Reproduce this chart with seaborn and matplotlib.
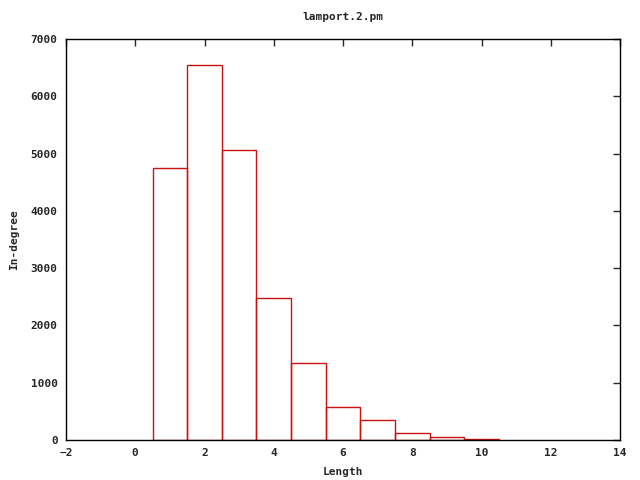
import matplotlib
matplotlib.use('Agg')
import matplotlib.pyplot as plt
import numpy as np
import pandas as pd
import seaborn as sns

sns.set_style("white")
plt.rcParams['font.family'] = ['DejaVu Sans Mono', 'DejaVu Sans']

#Data
length = [1, 2, 3, 4, 5, 6, 7, 8, 9, 10]
indegree = [4740, 6550, 5070, 2475, 1345, 578, 350, 125, 58, 22]

df = pd.DataFrame({'Length': length, 'In-degree': indegree})

fig = plt.figure(figsize=(6.4, 4.8), dpi=100)
ax = fig.add_axes([66/640, 40/480, 554/640, 401/480])
sns.histplot(data=df, x='Length', weights='In-degree', binwidth=1, binrange=(0.5, 10.5),
             fill=False, color='#cc1111', linewidth=1, ax=ax)

ax.set_xlim(-2, 14)
ax.set_ylim(0, 7000)
ax.set_xticks(np.arange(-2, 15, 2))
ax.set_yticks(np.arange(0, 7001, 1000))
ax.tick_params(direction='in', top=True, right=True, length=5, width=1,
               labelsize=8, pad=6)
for lab in ax.get_xticklabels() + ax.get_yticklabels():
    lab.set_fontweight('bold')
for s in ax.spines.values():
    s.set_linewidth(1)
    s.set_color('black')
ax.set_xlabel('Length', fontsize=8, fontweight='bold', labelpad=6)
ax.set_ylabel('In-degree', fontsize=8, fontweight='bold', labelpad=8)
ax.set_title('lamport.2.pm', fontsize=8, fontweight='bold', pad=14)

plt.savefig('out.png', dpi=100)
